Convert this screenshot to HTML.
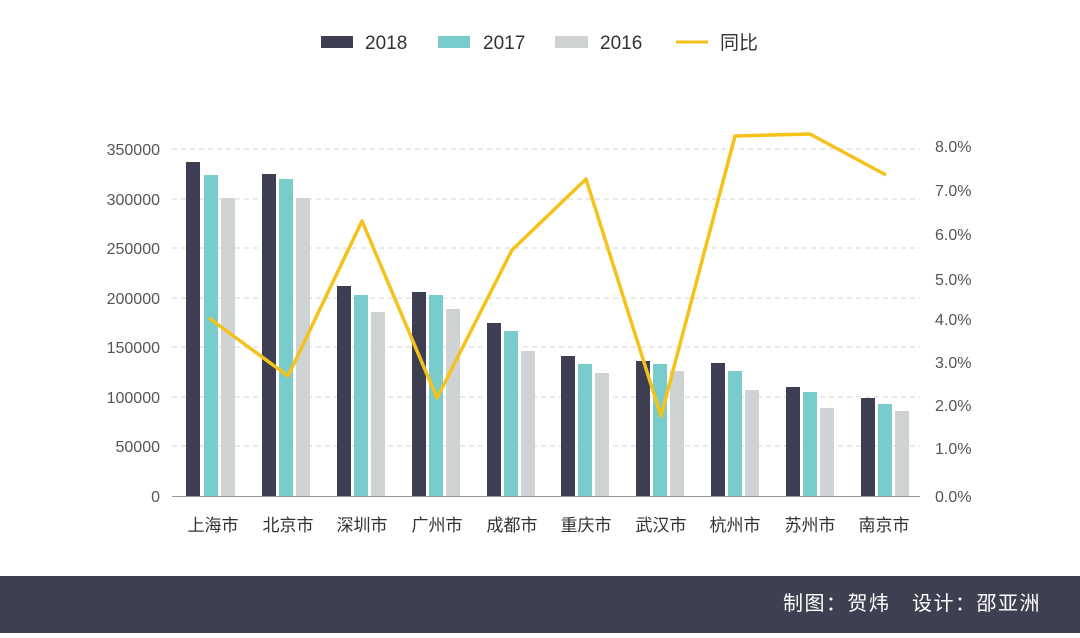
<!DOCTYPE html>
<html><head><meta charset="utf-8"><style>
body{margin:0;background:#fff;width:1080px;height:633px;overflow:hidden;font-family:"Liberation Sans","Noto Sans CJK SC",sans-serif}
</style></head><body>
<svg width="1080" height="633" xmlns="http://www.w3.org/2000/svg" font-family="Liberation Sans, Noto Sans CJK SC, sans-serif">
<rect width="1080" height="633" fill="#fff"/>
<g font-size="19" fill="#333">
<rect x="321" y="36" width="32" height="12" fill="#3d3e51"/><text x="365" y="49">2018</text>
<rect x="438" y="36" width="32" height="12" fill="#78cccb"/><text x="483" y="49">2017</text>
<rect x="555" y="36" width="33" height="12" fill="#d0d3d3"/><text x="600" y="49">2016</text>
<line x1="676" y1="42" x2="708" y2="42" stroke="#f5c21b" stroke-width="3"/><text x="720" y="49">同比</text>
</g>
<g stroke="#d6d6d6" stroke-dasharray="5,4" stroke-width="1">
<line x1="172" x2="920" y1="149" y2="149"/><line x1="172" x2="920" y1="199" y2="199"/><line x1="172" x2="920" y1="248" y2="248"/><line x1="172" x2="920" y1="298" y2="298"/><line x1="172" x2="920" y1="347" y2="347"/><line x1="172" x2="920" y1="397" y2="397"/><line x1="172" x2="920" y1="446" y2="446"/>
</g>
<g font-size="16" fill="#555" text-anchor="end">
<text x="160" y="155">350000</text><text x="160" y="205">300000</text><text x="160" y="254">250000</text><text x="160" y="304">200000</text><text x="160" y="353">150000</text><text x="160" y="403">100000</text><text x="160" y="452">50000</text><text x="160" y="502">0</text>
</g>
<g font-size="16" fill="#555">
<text x="935" y="152">8.0%</text><text x="935" y="196">7.0%</text><text x="935" y="240">6.0%</text><text x="935" y="285">5.0%</text><text x="935" y="325">4.0%</text><text x="935" y="368">3.0%</text><text x="935" y="411">2.0%</text><text x="935" y="454">1.0%</text><text x="935" y="502">0.0%</text>
</g>
<g>
<rect x="186" y="162" width="14" height="334" fill="#3d3e51"/><rect x="204" y="175" width="14" height="321" fill="#78cccb"/><rect x="221" y="198" width="14" height="298" fill="#d0d3d3"/>
<rect x="262" y="174" width="14" height="322" fill="#3d3e51"/><rect x="279" y="179" width="14" height="317" fill="#78cccb"/><rect x="296" y="198" width="14" height="298" fill="#d0d3d3"/>
<rect x="337" y="286" width="14" height="210" fill="#3d3e51"/><rect x="354" y="295" width="14" height="201" fill="#78cccb"/><rect x="371" y="312" width="14" height="184" fill="#d0d3d3"/>
<rect x="412" y="292" width="14" height="204" fill="#3d3e51"/><rect x="429" y="295" width="14" height="201" fill="#78cccb"/><rect x="446" y="309" width="14" height="187" fill="#d0d3d3"/>
<rect x="487" y="323" width="14" height="173" fill="#3d3e51"/><rect x="504" y="331" width="14" height="165" fill="#78cccb"/><rect x="521" y="351" width="14" height="145" fill="#d0d3d3"/>
<rect x="561" y="356" width="14" height="140" fill="#3d3e51"/><rect x="578" y="364" width="14" height="132" fill="#78cccb"/><rect x="595" y="373" width="14" height="123" fill="#d0d3d3"/>
<rect x="636" y="361" width="14" height="135" fill="#3d3e51"/><rect x="653" y="364" width="14" height="132" fill="#78cccb"/><rect x="670" y="371" width="14" height="125" fill="#d0d3d3"/>
<rect x="711" y="363" width="14" height="133" fill="#3d3e51"/><rect x="728" y="371" width="14" height="125" fill="#78cccb"/><rect x="745" y="390" width="14" height="106" fill="#d0d3d3"/>
<rect x="786" y="387" width="14" height="109" fill="#3d3e51"/><rect x="803" y="392" width="14" height="104" fill="#78cccb"/><rect x="820" y="408" width="14" height="88" fill="#d0d3d3"/>
<rect x="861" y="398" width="14" height="98" fill="#3d3e51"/><rect x="878" y="404" width="14" height="92" fill="#78cccb"/><rect x="895" y="411" width="14" height="85" fill="#d0d3d3"/>
</g>
<line x1="172" x2="920" y1="496.5" y2="496.5" stroke="#999" stroke-width="1"/>
<polyline points="209,318 288,376 362,221 437,398 512,250 586,179 661,416 735,136 810,134 886,175" fill="none" stroke="#f5c21b" stroke-width="3.5" stroke-linejoin="round"/>
<g font-size="17" fill="#333" text-anchor="middle">
<text x="213" y="531">上海市</text><text x="288" y="531">北京市</text><text x="362" y="531">深圳市</text><text x="437" y="531">广州市</text><text x="512" y="531">成都市</text><text x="586" y="531">重庆市</text><text x="661" y="531">武汉市</text><text x="735" y="531">杭州市</text><text x="810" y="531">苏州市</text><text x="884" y="531">南京市</text>
</g>
<rect x="0" y="576" width="1080" height="57" fill="#3f3f52"/>
<text x="1041" y="610" font-size="20" letter-spacing="1.5" fill="#fff" text-anchor="end">制图：贺炜　设计：邵亚洲</text>
</svg>
</body></html>
